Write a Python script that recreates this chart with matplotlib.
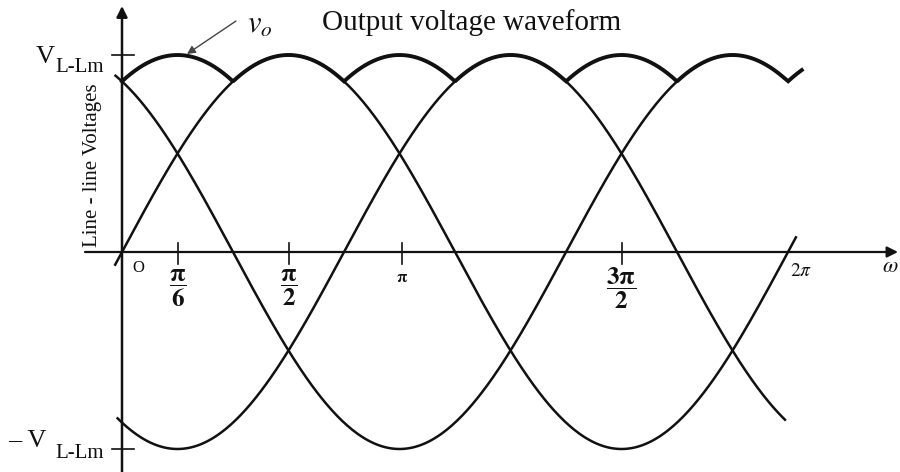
import numpy as np
import matplotlib.pyplot as plt

plt.rcParams['font.family'] = ['Liberation Serif', 'DejaVu Serif']
plt.rcParams['mathtext.fontset'] = 'stix'

# three line-line voltages, per unit of V_L-Lm
amp = 1.0
phases = [0.0, 2 * np.pi / 3, 4 * np.pi / 3]
starts = [-0.07, -0.07, -0.05]
ends = [2 * np.pi + 0.08, 2 * np.pi, 2 * np.pi - 0.02]
env_end = 2 * np.pi + 0.13

tick_pos = [np.pi / 6, np.pi / 2, 0.84 * np.pi, 1.5 * np.pi]
tick_txt = [r'$\mathbf{\dfrac{\pi}{6}}$', r'$\mathbf{\dfrac{\pi}{2}}$',
            r'$\mathbf{\pi}$', r'$\mathbf{\dfrac{3\pi}{2}}$']


def X(px):
    return (px - 122) / 106.0


def Y(py):
    return (252 - py) / 197.0


fig = plt.figure(figsize=(9, 4.72), dpi=100)
ax = fig.add_axes([0, 0, 1, 1])
ax.set_xlim(X(0), X(900))
ax.set_ylim(Y(472), Y(0))
ax.axis('off')

ink = '#111111'

for ph, a, b in zip(phases, starts, ends):
    t = np.linspace(a, b, 400)
    ax.plot(t, amp * np.sin(t + ph), color=ink, lw=1.8, solid_capstyle='butt')

# output voltage: the largest of the line-line magnitudes
t = np.linspace(0, env_end, 800)
vo = np.max([np.abs(amp * np.sin(t + ph)) for ph in phases], axis=0)
ax.plot(t, vo, color=ink, lw=2.8, solid_joinstyle='miter')

# axes with arrows
ax.annotate('', xy=(X(898), 0), xytext=(X(85), 0),
            arrowprops=dict(arrowstyle='-|>', lw=1.6, color=ink, mutation_scale=16,
                            shrinkA=0, shrinkB=0))
ax.annotate('', xy=(0, Y(6)), xytext=(0, Y(475)),
            arrowprops=dict(arrowstyle='-|>', lw=1.8, color=ink, mutation_scale=16,
                            shrinkA=0, shrinkB=0))

# y ticks at +/- V_L-Lm
for v in [amp, -amp]:
    ax.plot([X(112), X(134)], [v, v], color=ink, lw=1.2)
ax.text(X(36), Y(63), 'V', fontsize=19, ha='left', va='baseline', color=ink)
ax.text(X(55), Y(72), 'L-Lm', fontsize=15, ha='left', va='baseline', color=ink)
ax.text(X(8), Y(447), '\u2013 V', fontsize=19, ha='left', va='baseline', color=ink)
ax.text(X(55), Y(458), 'L-Lm', fontsize=15, ha='left', va='baseline', color=ink)

# x ticks
for p in tick_pos:
    ax.plot([p, p], [Y(243), Y(264)], color=ink, lw=1.2)
for p, s in zip(tick_pos, tick_txt):
    if 'dfrac' in s:
        ax.text(p, Y(288), s, fontsize=18, ha='center', va='center', color=ink)
    else:
        ax.text(p, Y(278), s, fontsize=12, ha='center', va='center', color=ink)
ax.text(X(138), Y(268), 'O', fontsize=12, ha='center', va='center', color=ink)
ax.text(X(801), Y(272), r'$2\pi$', fontsize=14, ha='center', va='center', color=ink)
ax.text(X(899), Y(268), r'$\omega$', fontsize=16, ha='right', va='center', color=ink)

ax.text(X(93), Y(165), 'Line - line Voltages', fontsize=15, rotation=90,
        ha='center', va='center', color=ink)

# label for the output waveform
ax.annotate('', xy=(X(187), Y(54)), xytext=(X(236), Y(21)),
            arrowprops=dict(arrowstyle='-|>', lw=1.0, color='#444444',
                            mutation_scale=12, shrinkA=0, shrinkB=0))
ax.text(X(247), Y(25), r'$v_o$', fontsize=22, ha='left', va='center', color=ink)
ax.text(X(322), Y(23), 'Output voltage waveform', fontsize=21, ha='left',
        va='center', color=ink)

fig.savefig('out.png', dpi=100)
